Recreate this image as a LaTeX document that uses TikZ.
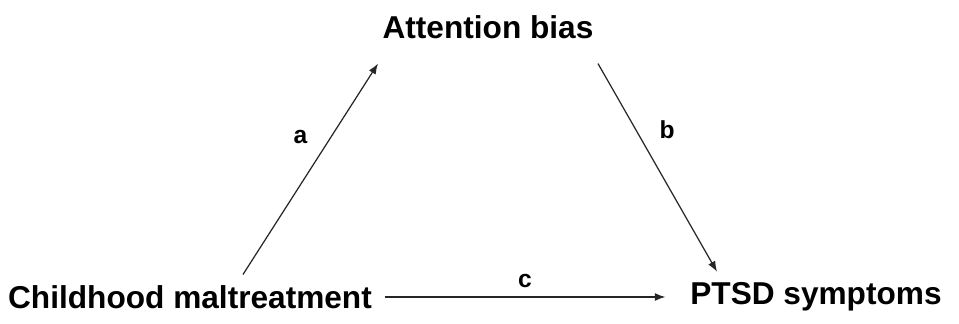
\documentclass[tikz,border=0pt]{standalone}
\usepackage{fontspec}
\setmainfont{Liberation Sans}
\usetikzlibrary{arrows.meta,positioning}

\begin{document}
\begin{tikzpicture}[
    x=0.02cm, y=-0.02cm,
    var/.style={font=\bfseries\fontsize{18}{20}\selectfont, inner sep=2pt},
    lbl/.style={font=\bfseries\fontsize{14}{16}\selectfont, inner sep=1pt},
    path/.style={draw=black!85, line width=0.7pt, -{Latex[length=6pt,width=4.5pt]}}
]
\useasboundingbox (0,0) rectangle (959,324);

\node[var] (bias) at (488,27) {Attention bias};
\node[var] (child) at (190,297) {Childhood maltreatment};
\node[var] (ptsd) at (816,297) {PTSD symptoms};

\draw[path] ([xshift=1.06cm,yshift=4pt]child.north) -- node[lbl, left=12pt, pos=0.65] {a} ([xshift=-2.2cm,yshift=-12pt]bias.south);
\draw[path] ([xshift=2.2cm,yshift=-12pt]bias.south) -- node[lbl, right=12pt, pos=0.32] {b} ([xshift=-1.98cm,yshift=4pt]ptsd.north);
\draw[path] ([xshift=5pt]child.east) -- node[lbl, above=4pt] {c} ([xshift=-12pt]ptsd.west);

\end{tikzpicture}
\end{document}
